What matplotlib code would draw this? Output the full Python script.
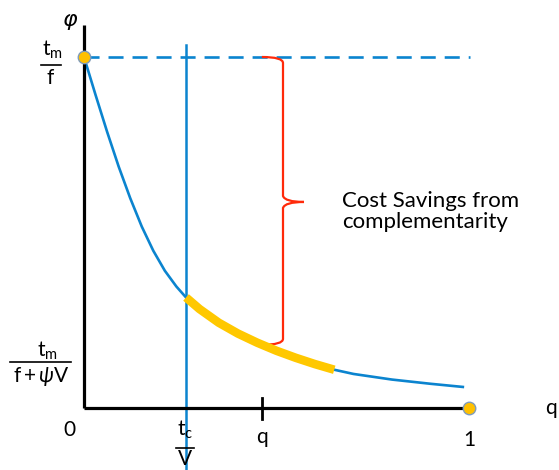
import matplotlib.pyplot as plt
from matplotlib.path import Path
from matplotlib.patches import PathPatch
import numpy as np

plt.rcParams['font.family'] = ['Lato', 'DejaVu Sans']
plt.rcParams['mathtext.fontset'] = 'custom'
plt.rcParams['mathtext.rm'] = 'Lato'
plt.rcParams['mathtext.it'] = 'Lato:italic'
plt.rcParams['mathtext.fallback'] = 'stixsans'

# decaying cost curve (x = q, y = phi, tm/f = 1)
curve_x = [0.000, 0.030, 0.060, 0.090, 0.120, 0.150, 0.180, 0.210, 0.240,
           0.265, 0.300, 0.350, 0.400, 0.450, 0.500, 0.550, 0.600, 0.650,
           0.700, 0.800, 0.900, 0.984]
curve_y = [1.000, 0.892, 0.787, 0.688, 0.598, 0.517, 0.448, 0.391, 0.346,
           0.315, 0.282, 0.243, 0.212, 0.186, 0.163, 0.143, 0.125, 0.109,
           0.097, 0.081, 0.069, 0.060]

tc_over_v = 0.265      # t_c / V
q_value = 0.462        # q
yellow_end = 0.650     # end of highlighted stretch
tm_over_f = 1.0        # t_m / f
phi_at_q = 0.180       # brace bottom
brace_mid = 0.587

blue = '#0B84CF'
yellow = '#FFC800'
red = '#FF2A0A'

# pixel helpers: origin at (84, 408), 385 px per unit in x, 351 px in y
PX, PY = 385.0, 351.0


def px(x):
    return (x - 84) / PX


def py(y):
    return (408 - y) / PY


fig = plt.figure(figsize=(5.59, 4.70), dpi=100)
ax = fig.add_axes([0, 0, 1, 1])
ax.set_xlim(px(0), px(559))
ax.set_ylim(py(470), py(0))
ax.axis('off')

cx = np.array(curve_x)
cy = np.array(curve_y)

# axes
ax.plot([0, 0], [0, py(25)], color='black', lw=2.3, solid_capstyle='butt', zorder=3)
ax.plot([0, 1], [0, 0], color='black', lw=2.3, solid_capstyle='butt', zorder=3)
ax.plot([q_value, q_value], [py(398), py(419)], color='black', lw=2.0, zorder=3)

# dashed tm/f level
ax.plot([0, 1.003], [tm_over_f, tm_over_f], color=blue, lw=1.9,
        dashes=(5.7, 3.4), zorder=2)

# vertical tc/V line
ax.plot([tc_over_v, tc_over_v], [py(45), py(475)], color=blue, lw=1.8, zorder=2)

# curve
ax.plot(cx, cy, color=blue, lw=1.9, zorder=2, solid_joinstyle='round')
mask = (cx >= tc_over_v) & (cx <= yellow_end)
ax.plot(cx[mask], cy[mask], color=yellow, lw=6.2, solid_capstyle='butt',
        solid_joinstyle='round', zorder=4)

# end dots
ax.plot([0, 1], [tm_over_f, 0], 'o', ms=9, mfc='#FFC000', mec='#7F9BBA',
        mew=1.0, zorder=5, linestyle='none')

# brace
xb = px(283)
xt = px(304)
r = 6 / PY
verts = [(q_value, tm_over_f), (xb, tm_over_f), (xb, tm_over_f - r),
         (xb, brace_mid + r), (xb + 2 / PX, brace_mid), (xt, brace_mid),
         (xt, brace_mid), (xb + 2 / PX, brace_mid), (xb, brace_mid - r),
         (xb, phi_at_q + r), (xb, phi_at_q), (q_value, phi_at_q)]
codes = [Path.MOVETO, Path.CURVE3, Path.CURVE3,
         Path.LINETO, Path.CURVE3, Path.CURVE3,
         Path.MOVETO, Path.CURVE3, Path.CURVE3,
         Path.LINETO, Path.CURVE3, Path.CURVE3]
ax.add_patch(PathPatch(Path(verts, codes), fill=False, edgecolor=red,
                       lw=1.6, zorder=3))

fs = 15
# axis labels
ax.text(px(70), py(20), 'φ', family=['DejaVu Sans'], style='italic',
        fontsize=16, ha='center', va='center')
ax.text(px(551), py(408), 'q', fontsize=fs, ha='center', va='center')
ax.text(px(69), py(430), '0', fontsize=fs, ha='center', va='center')
ax.text(q_value, py(437), 'q', fontsize=fs, ha='center', va='center')
ax.text(1, py(440), '1', fontsize=fs, ha='center', va='center')

# tm / f
ax.text(px(52), py(50), r'$\mathrm{t_m}$', fontsize=fs, ha='center', va='center')
ax.plot([px(41), px(61)], [py(65), py(65)], color='black', lw=1.2)
ax.text(px(50), py(78), 'f', fontsize=fs, ha='center', va='center')

# tm / (f + psi V)
ax.text(px(47), py(351), r'$\mathrm{t_m}$', fontsize=fs, ha='center', va='center')
ax.plot([px(10), px(71)], [py(362), py(362)], color='black', lw=1.2)
ax.text(px(41), py(376), r'$\mathrm{f+}\psi\mathrm{V}$', fontsize=fs,
        ha='center', va='center')

# tc / V
ax.text(px(185), py(430), r'$\mathrm{t_c}$', fontsize=fs, ha='center', va='center')
ax.plot([px(176), px(194)], [py(448), py(448)], color='black', lw=1.2)
ax.text(px(185), py(469), 'V', fontsize=fs, ha='center', va='bottom')

ax.text(px(342), py(191), 'Cost Savings from\ncomplementarity', fontsize=16,
        ha='left', va='top', linespacing=1.05)

fig.savefig('out.png', dpi=100)
